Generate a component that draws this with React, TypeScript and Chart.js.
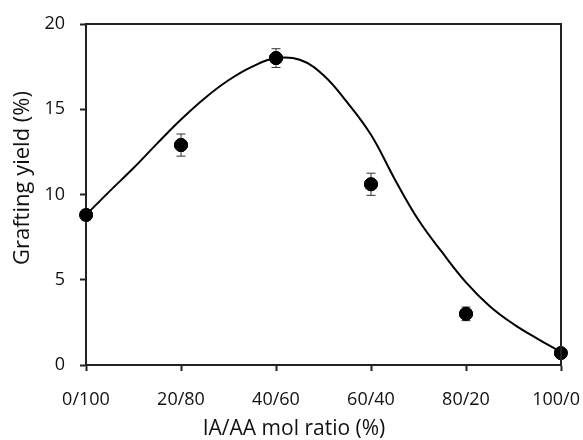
import React, { useEffect, useRef } from "react";
import { Chart, registerables } from "chart.js";

Chart.register(...registerables);

const categories = ["0/100", "20/80", "40/60", "60/40", "80/20", "100/0"];
const yieldValues = [8.8, 12.9, 18.0, 10.6, 3.0, 0.7];
const yieldErrors = [0.3, 0.65, 0.55, 0.65, 0.4, 0.0];

const curveX = [0, 0.25, 0.5, 0.75, 1, 1.25, 1.5, 1.75, 2, 2.25, 2.5, 2.75, 3, 3.25, 3.5, 3.75, 4, 4.25, 4.5, 4.75, 5];
const curveY = [8.8, 10.2, 11.55, 13.0, 14.4, 15.65, 16.7, 17.5, 18.0, 17.9, 17.0, 15.4, 13.5, 10.9, 8.5, 6.6, 4.85, 3.45, 2.4, 1.55, 0.75];

const yTicks = [0, 5, 10, 15, 20];

const xTitle = "IA/AA mol ratio (%)";
const yTitle = "Grafting yield (%)";

const FONT = "'Open Sans'";

const errorBarPlugin = {
  id: "errorBars",
  afterDatasetsDraw(chart: any) {
    const { ctx, scales } = chart;
    const xs = scales.x;
    const ys = scales.y;
    ctx.save();
    ctx.strokeStyle = "#333";
    ctx.lineWidth = 1;
    yieldValues.forEach((v, i) => {
      const e = yieldErrors[i];
      if (!e) return;
      const px = xs.getPixelForValue(i);
      const top = ys.getPixelForValue(v + e);
      const bot = ys.getPixelForValue(v - e);
      ctx.beginPath();
      ctx.moveTo(px, top);
      ctx.lineTo(px, bot);
      ctx.moveTo(px - 4.5, top);
      ctx.lineTo(px + 4.5, top);
      ctx.moveTo(px - 4.5, bot);
      ctx.lineTo(px + 4.5, bot);
      ctx.stroke();
    });
    const meta = chart.getDatasetMeta(1);
    meta.data.forEach((el: any) => el.draw(ctx, chart.chartArea));
    ctx.restore();
  },
};

// keep the last x label inside the canvas, as in the reference
const lastLabelPlugin = {
  id: "lastLabel",
  beforeDraw(chart: any) {
    const xs = chart.scales.x;
    const items = xs.getLabelItems(chart.chartArea);
    const last = items[items.length - 1];
    if (last && last.options) {
      last.options.textAlign = "right";
      last.options.translation = [chart.width - 3, last.options.translation[1]];
    }
  },
};

const framePlugin = {
  id: "frame",
  afterDraw(chart: any) {
    const { ctx, chartArea } = chart;
    ctx.save();
    ctx.strokeStyle = "#222";
    ctx.lineWidth = 2;
    ctx.beginPath();
    ctx.moveTo(chartArea.left, chartArea.top);
    ctx.lineTo(chartArea.right, chartArea.top);
    ctx.lineTo(chartArea.right, chartArea.bottom);
    ctx.stroke();
    ctx.fillStyle = "#111";
    ctx.textAlign = "center";
    ctx.textBaseline = "middle";
    ctx.font = `21px ${FONT}`;
    ctx.fillText(xTitle, chart.width / 2 + 2.5, 429);
    ctx.translate(23, 178);
    ctx.rotate(-Math.PI / 2);
    ctx.font = `22px ${FONT}`;
    ctx.fillText(yTitle, 0, 0);
    ctx.restore();
  },
};

const zeroPad = (s: any) => {
  s.paddingLeft = 0;
  s.paddingRight = 0;
  s.paddingTop = 0;
  s.paddingBottom = 0;
};

export default function App() {
  const ref = useRef<HTMLCanvasElement | null>(null);
  useEffect(() => {
    if (!ref.current) return;
    const chart = new Chart(ref.current, {
      type: "scatter",
      data: {
        datasets: [
          {
            type: "line",
            data: curveX.map((x, i) => ({ x, y: curveY[i] })),
            borderColor: "#000",
            borderWidth: 2,
            pointRadius: 0,
            tension: 0.4,
            fill: false,
          } as any,
          {
            data: yieldValues.map((y, i) => ({ x: i, y })),
            backgroundColor: "#000",
            borderColor: "#000",
            pointRadius: 6.5,
            pointHoverRadius: 6.5,
          },
        ],
      },
      options: {
        animation: false,
        responsive: false,
        maintainAspectRatio: false,
        layout: { padding: { top: 24, right: 22, left: 0, bottom: 0 } },
        plugins: { legend: { display: false }, tooltip: { enabled: false } },
        scales: {
          x: {
            type: "linear",
            min: 0,
            max: 5,
            afterFit: (s: any) => { s.height = 75; zeroPad(s); },
            afterBuildTicks: (s: any) => { s.ticks = categories.map((_, i) => ({ value: i })); },
            ticks: {
              callback: (v: any) => categories[v as number] ?? "",
              color: "#111",
              font: { family: FONT, size: 18 },
              padding: 18,
              maxRotation: 0,
              autoSkip: false,
            },
            grid: { drawOnChartArea: false, tickLength: 6, tickColor: "#222", tickWidth: 2 },
            border: { color: "#222", width: 2 },
          },
          y: {
            min: 0,
            max: 20,
            afterFit: (s: any) => { s.width = 86; zeroPad(s); },
            afterBuildTicks: (s: any) => { s.ticks = yTicks.map((v) => ({ value: v })); },
            ticks: {
              color: "#111",
              font: { family: FONT, size: 18 },
              padding: 15,
            },
            grid: { drawOnChartArea: false, tickLength: 6, tickColor: "#222", tickWidth: 2 },
            border: { color: "#222", width: 2 },
          },
        },
      },
      plugins: [lastLabelPlugin, errorBarPlugin, framePlugin],
    });
    return () => chart.destroy();
  }, []);
  return (
    <div style={{ position: "fixed", left: 0, top: 0, width: 583, height: 440, background: "#fff" }}>
      <canvas ref={ref} width={583} height={440} style={{ width: 583, height: 440 }} />
    </div>
  );
}
